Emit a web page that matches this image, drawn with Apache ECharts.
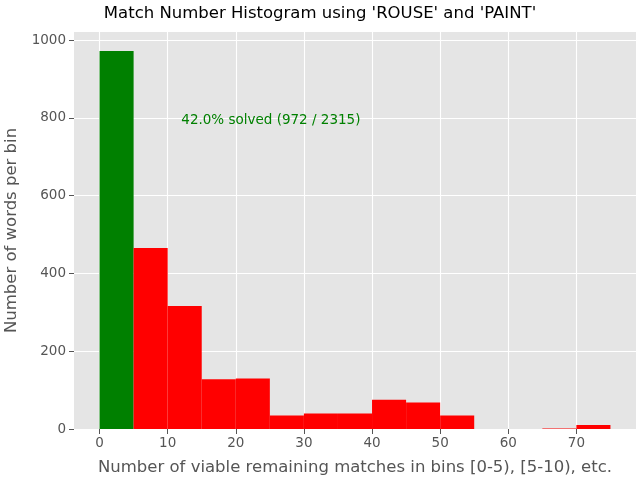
<!DOCTYPE html>
<html>
<head>
<meta charset="utf-8">
<script src="https://cdn.jsdelivr.net/npm/echarts@6/dist/echarts.min.js"></script>
<style>
  html, body { margin: 0; padding: 0; background: #fff; }
  #chart_container { width: 640px; height: 480px; }
</style>
</head>
<body>
<div id="chart_container"></div>
<script>
// histogram bins, width 5
var binStarts = [0, 5, 10, 15, 20, 25, 30, 35, 40, 45, 50, 55, 60, 65, 70];
var binCounts = [972, 465, 316, 128, 130, 35, 40, 40, 75, 68, 35, 0, 0, 1, 10];
var binWidth = 5;
var xTicks = [0, 10, 20, 30, 40, 50, 60, 70];
var yTicks = [0, 200, 400, 600, 800, 1000];
var noteText = '42.0% solved (972 / 2315)';
var notePos = [12, 775];

var dom = document.getElementById("chart_container");
var myChart = echarts.init(dom);

var binData = binStarts.map(function (s, i) {
    return [s, s + binWidth, binCounts[i]];
});

var tickColor = '#555';
var font = 'DejaVu Sans';

var option = {
    animation: false,
    backgroundColor: '#fff',
    title: {
        text: "Match Number Histogram using 'ROUSE' and 'PAINT'",
        left: 'center',
        top: 0,
        textStyle: { fontFamily: font, fontSize: 16.5, fontWeight: 'normal', color: '#000' }
    },
    grid: {
        left: 74, right: 4, top: 32, bottom: 51,
        outerBoundsMode: 'none', containLabel: false,
        backgroundColor: '#e5e5e5', show: true, borderWidth: 0
    },
    xAxis: {
        type: 'value',
        min: -3.75,
        max: 78.75,
        name: 'Number of viable remaining matches in bins [0-5), [5-10), etc.',
        nameLocation: 'middle',
        nameGap: 30,
        nameTextStyle: { fontFamily: font, fontSize: 16.5, color: tickColor },
        axisLine: { show: false, onZero: false },
        axisTick: { show: true, customValues: xTicks, length: 5, lineStyle: { color: tickColor } },
        axisLabel: { customValues: xTicks, fontFamily: font, fontSize: 13.5, color: tickColor, margin: 7 },
        splitLine: { show: true, lineStyle: { color: '#fff', width: 1.1 } }
    },
    yAxis: {
        type: 'value',
        min: 0,
        max: 1020.6,
        name: 'Number of words per bin',
        nameLocation: 'middle',
        nameGap: 54,
        nameTextStyle: { fontFamily: font, fontSize: 16.5, color: tickColor },
        axisLine: { show: false, onZero: false },
        axisTick: { show: true, customValues: yTicks, length: 5, lineStyle: { color: tickColor } },
        axisLabel: {
            customValues: yTicks, fontFamily: font, fontSize: 13.5, color: tickColor, margin: 8,
            formatter: function (v) { return String(v); }
        },
        splitLine: { show: true, lineStyle: { color: '#fff', width: 1.1 } }
    },
    series: [
        {
            type: 'custom',
            data: binData,
            renderItem: function (params, api) {
                var top = api.coord([api.value(0), api.value(2)]);
                var bottom = api.coord([api.value(1), 0]);
                return {
                    type: 'rect',
                    shape: { x: top[0], y: top[1], width: bottom[0] - top[0], height: bottom[1] - top[1] },
                    style: { fill: params.dataIndex === 0 ? '#008000' : '#ff0000' }
                };
            }
        },
        {
            type: 'custom',
            data: [notePos],
            renderItem: function (params, api) {
                var p = api.coord([api.value(0), api.value(1)]);
                return {
                    type: 'text',
                    x: p[0],
                    y: p[1],
                    style: {
                        text: noteText,
                        fill: '#008000',
                        fontFamily: font,
                        fontSize: 13.5,
                        verticalAlign: 'bottom'
                    }
                };
            }
        }
    ]
};

myChart.setOption(option, true);
</script>
</body>
</html>
